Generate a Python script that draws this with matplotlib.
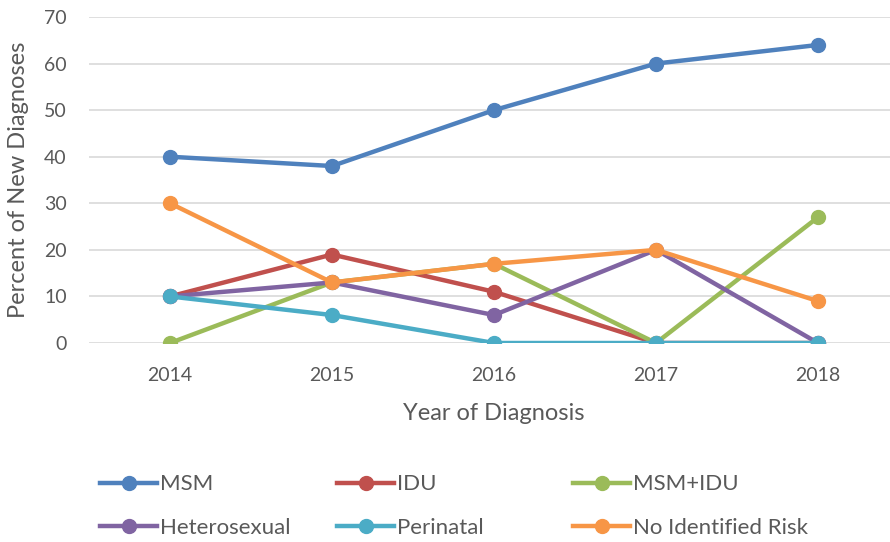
import matplotlib
matplotlib.use('Agg')
import matplotlib.pyplot as plt
from matplotlib.lines import Line2D

plt.rcParams['font.family'] = ['Lato', 'DejaVu Sans']

years = ['2014', '2015', '2016', '2017', '2018']
groups = ['MSM', 'IDU', 'MSM+IDU', 'Heterosexual', 'Perinatal', 'No Identified Risk']
msm = [40, 38, 50, 60, 64]
idu = [10, 19, 11, 0, 0]
msm_idu = [0, 13, 17, 0, 27]
hetero = [10, 13, 6, 20, 0]
perinatal = [10, 6, 0, 0, 0]
no_risk = [30, 13, 17, 20, 9]
colors = ['#4F81BD', '#C0504D', '#9BBB59', '#8064A2', '#4BACC6', '#F79646']

fig = plt.figure(figsize=(8.9, 5.42), dpi=100)
ax = fig.add_axes([89 / 890, 199 / 542, 810 / 890, 326 / 542])

x = range(len(years))
handles = []
for name, vals, c in zip(groups, [msm, idu, msm_idu, hetero, perinatal, no_risk], colors):
    ax.plot(x, vals, color=c, lw=3.2, marker='o', ms=10, solid_capstyle='round')
    handles.append(Line2D([], [], color=c, lw=3.2, marker='o', ms=10, label=name))

ax.set_xlim(-0.5, 4.5)
ax.set_ylim(0, 70)
ax.set_yticks(range(0, 71, 10))
ax.set_xticks(list(x))
ax.set_xticklabels(years)
ax.grid(axis='y', color='#D9D9D9', lw=1.2)
ax.set_axisbelow(True)
for s in ax.spines.values():
    s.set_visible(False)
ax.tick_params(length=0, labelsize=14, colors='#595959', pad=17)
ax.tick_params(axis='y', pad=16)
ax.set_xlabel('Year of Diagnosis', fontsize=17, color='#595959', labelpad=14)
ax.set_ylabel('Percent of New Diagnoses', fontsize=17, color='#595959')
ax.yaxis.set_label_coords(-60 / 810, 0.5)

# legend: three columns, each its own legend so the columns sit where they should
col_x = [100, 337, 573]
for i, cx in enumerate(col_x):
    leg = fig.legend(handles=[handles[i], handles[i + 3]], loc='center left',
                     bbox_to_anchor=(cx / 890, (542 - 506) / 542),
                     frameon=False, fontsize=16, handlelength=2.57, handletextpad=0.14,
                     labelspacing=1.05, borderpad=0, borderaxespad=0)
    for t in leg.get_texts():
        t.set_color('#595959')

fig.savefig('out.png', dpi=100)
